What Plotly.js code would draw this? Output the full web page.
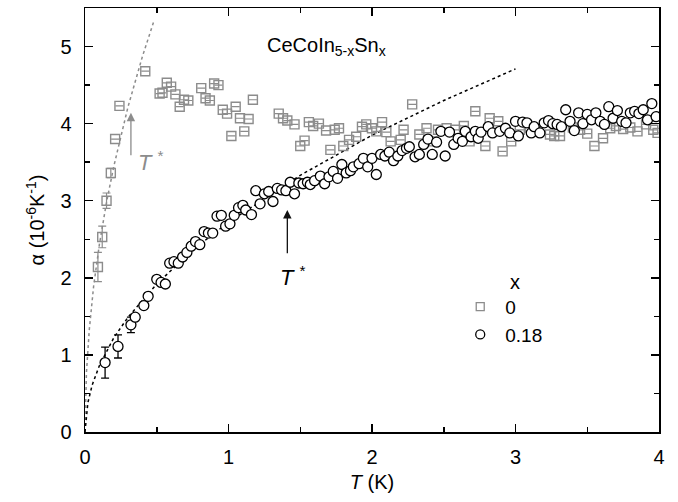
<!DOCTYPE html>
<html><head><meta charset="utf-8">
<script src="https://cdn.plot.ly/plotly-3.0.1.min.js"></script>
<style>body{margin:0;background:#fff}#chart{width:678px;height:502px}</style>
</head><body><div id="chart"></div>
<script>
// x = 0 sample (gray squares)
const sqT = [0.09,0.12,0.15,0.18,0.21,0.24,0.42,0.52,0.54,0.57,0.60,0.63,0.66,0.69,0.72,0.81,0.84,0.87,0.90,0.93,0.96,0.99,1.02,1.05,1.08,1.11,1.14,1.17,1.35,1.38,1.41,1.46,1.50,1.53,1.56,1.59,1.63,1.68,1.71,1.74,1.77,1.80,1.84,1.89,1.93,1.96,2.00,2.03,2.07,2.10,2.13,2.20,2.22,2.28,2.33,2.38,2.43,2.46,2.52,2.58,2.64,2.68,2.72,2.79,2.82,2.88,2.91,2.97,3.03,3.10,3.15,3.24,3.27,3.31,3.40,3.45,3.50,3.55,3.61,3.66,3.70,3.75,3.80,3.85,3.91,3.96,3.99];
const sqA = [2.14,2.53,3.00,3.36,3.80,4.23,4.68,4.39,4.40,4.53,4.48,4.38,4.22,4.31,4.30,4.46,4.33,4.30,4.52,4.50,4.18,4.13,3.84,4.22,4.07,3.90,4.06,4.31,4.13,4.07,4.04,3.99,3.71,3.78,4.02,3.97,4.00,3.91,3.66,3.92,3.94,3.71,3.79,3.83,3.96,3.99,3.94,3.90,4.02,3.89,3.77,3.79,3.92,4.25,3.86,3.94,3.77,3.92,3.94,3.92,3.97,3.77,4.16,3.71,4.07,4.03,3.64,3.77,3.92,3.95,3.90,3.86,3.84,3.84,3.95,3.92,3.87,3.71,3.81,3.94,3.97,3.93,3.95,3.90,3.99,3.92,3.88];
const sqErr = [0.19,0.14,0.10,0.06];
// x = 0.18 sample (black circles)
const ciT = [0.14,0.23,0.32,0.35,0.41,0.44,0.50,0.53,0.56,0.59,0.62,0.65,0.68,0.71,0.74,0.77,0.80,0.83,0.86,0.89,0.92,0.95,0.98,1.01,1.04,1.07,1.10,1.12,1.16,1.19,1.22,1.25,1.28,1.31,1.34,1.37,1.40,1.43,1.46,1.49,1.52,1.55,1.57,1.60,1.64,1.67,1.70,1.73,1.76,1.79,1.82,1.85,1.87,1.91,1.94,1.97,2.00,2.03,2.06,2.09,2.12,2.15,2.18,2.21,2.24,2.26,2.30,2.33,2.36,2.39,2.42,2.45,2.48,2.51,2.54,2.57,2.60,2.63,2.65,2.69,2.72,2.74,2.76,2.81,2.84,2.89,2.93,2.96,3.00,3.02,3.05,3.08,3.11,3.13,3.17,3.20,3.23,3.26,3.29,3.32,3.35,3.38,3.41,3.44,3.47,3.50,3.53,3.56,3.59,3.62,3.65,3.68,3.71,3.74,3.77,3.80,3.83,3.86,3.89,3.92,3.95,3.98];
const ciA = [0.90,1.11,1.39,1.49,1.64,1.76,1.98,1.94,1.92,2.19,2.21,2.19,2.27,2.33,2.41,2.47,2.43,2.60,2.58,2.58,2.80,2.81,2.67,2.70,2.81,2.91,2.94,2.88,2.82,3.13,2.96,3.09,3.12,2.99,3.16,3.14,3.13,3.24,3.09,3.23,3.22,3.24,3.21,3.26,3.32,3.22,3.31,3.38,3.29,3.47,3.36,3.39,3.44,3.48,3.55,3.44,3.55,3.34,3.60,3.58,3.63,3.52,3.58,3.65,3.68,3.70,3.57,3.60,3.73,3.80,3.60,3.76,3.90,3.58,3.89,3.73,3.81,3.77,3.90,3.83,3.90,3.81,3.89,3.96,3.88,3.90,3.94,3.88,4.03,3.84,4.02,4.01,3.88,3.96,3.88,4.01,4.04,4.00,3.99,3.96,4.18,4.03,3.91,4.14,4.00,4.12,4.05,4.14,4.03,3.99,4.22,4.07,4.17,4.03,4.01,4.14,4.16,4.13,4.18,4.05,4.26,4.09];
const ciErr = [0.20,0.15,0.10];
// guide curves
const fit0T = [0,0.01,0.03,0.06,0.10,0.15,0.20,0.30,0.40,0.48];
const fit0A = [0,0.77,1.33,1.89,2.43,2.98,3.44,4.22,4.87,5.33];
const fit1T = [0,0.02,0.05,0.10,0.20,0.30,0.50,0.75,1.00,1.50,2.00,2.50,3.00];
const fit1A = [0,0.38,0.61,0.86,1.22,1.49,1.92,2.36,2.72,3.33,3.85,4.30,4.71];
const legendNames = ['0','0.18'];

const gray = '#8c8c8c';
function errArr(base, n){ const a = []; for(let i=0;i<n;i++) a.push(i<base.length?base[i]:null); return a; }

const traces = [
  {x:fit0T, y:fit0A, mode:'lines', line:{color:gray, dash:'dot', width:1.5}, showlegend:false, hoverinfo:'skip'},
  {x:fit1T, y:fit1A, mode:'lines', line:{color:'#000', dash:'dot', width:1.5}, showlegend:false, hoverinfo:'skip'},
  {x:sqT, y:sqA, mode:'markers', showlegend:false,
   marker:{symbol:'square-open', size:9, color:gray, line:{width:1.4, color:gray}},
   error_y:{type:'data', array:errArr(sqErr, sqT.length), visible:true, color:gray, thickness:1.2, width:4}},
  {x:ciT, y:ciA, mode:'markers', showlegend:false,
   marker:{symbol:'circle', size:10, color:'#fff', line:{width:1.3, color:'#000'}},
   error_y:{type:'data', array:errArr(ciErr, ciT.length), visible:true, color:'#000', thickness:1.3, width:4}},
  {x:[null], y:[null], mode:'markers', name:legendNames[0], marker:{symbol:'square-open', size:8, color:gray, line:{width:1.3,color:gray}}},
  {x:[null], y:[null], mode:'markers', name:legendNames[1], marker:{symbol:'circle-open', size:9, color:'#000', line:{width:1.3,color:'#000'}}}
];

const fontFam = 'Liberation Sans, Arial, Helvetica, sans-serif';
const layout = {
  width:678, height:502,
  margin:{l:85, r:19, t:8, b:70},
  paper_bgcolor:'#fff', plot_bgcolor:'#fff',
  font:{family:fontFam, size:20, color:'#000'},
  showlegend:true,
  legend:{x:0.645, y:0.34, xanchor:'left', yanchor:'top', bgcolor:'rgba(0,0,0,0)', itemwidth:40, font:{size:19}},
  xaxis:{range:[0,4], dtick:1, ticks:'inside', ticklen:8, tickwidth:1.5, tickcolor:'#000',
         showline:true, linewidth:1.5, linecolor:'#000', mirror:'ticks', showgrid:false, zeroline:false,
         minor:{dtick:0.5, ticks:'inside', ticklen:5, tickwidth:1.5, tickcolor:'#000', showgrid:false},
         ticklabelstandoff:6,
         title:{text:'<i>T</i> (K)', font:{size:20}, standoff:8}},
  yaxis:{range:[0,5.5], dtick:1, ticks:'inside', ticklen:8, tickwidth:1.5, tickcolor:'#000',
         showline:true, linewidth:1.5, linecolor:'#000', mirror:'ticks', showgrid:false, zeroline:false,
         minor:{dtick:0.5, ticks:'inside', ticklen:5, tickwidth:1.5, tickcolor:'#000', showgrid:false},
         ticklabelstandoff:8,
         title:{text:'α (10<sup>-6</sup>K<sup>-1</sup>)', font:{size:20}, standoff:10}},
  annotations:[
    {xref:'paper', yref:'paper', x:(265-85)/574.5, y:(432-47)/424, xanchor:'left', yanchor:'middle', showarrow:false,
     text:'CeCoIn<sub>5-x</sub>Sn<sub>x</sub>', font:{size:20}},
    {xref:'paper', yref:'paper', x:(508-85)/574.5, y:(432-282)/424, xanchor:'left', yanchor:'middle', showarrow:false,
     text:'x', font:{size:20}},
    {x:0.32, y:4.14, ax:0.32, ay:3.57, xref:'x', yref:'y', axref:'x', ayref:'y', text:'', showarrow:true,
     arrowhead:2, arrowsize:1.3, arrowwidth:1.3, arrowcolor:gray},
    {x:0.46, y:3.51, xref:'x', yref:'y', showarrow:false, text:'<i>T</i> <sup>*</sup>', font:{size:22, color:gray}},
    {x:1.41, y:2.88, ax:1.41, ay:2.30, xref:'x', yref:'y', axref:'x', ayref:'y', text:'', showarrow:true,
     arrowhead:2, arrowsize:1.3, arrowwidth:1.3, arrowcolor:'#111'},
    {x:1.45, y:2.02, xref:'x', yref:'y', showarrow:false, text:'<i>T</i> <sup>*</sup>', font:{size:22, color:'#000'}}
  ]
};
Plotly.newPlot('chart', traces, layout, {staticPlot:true, displayModeBar:false});
</script></body></html>
